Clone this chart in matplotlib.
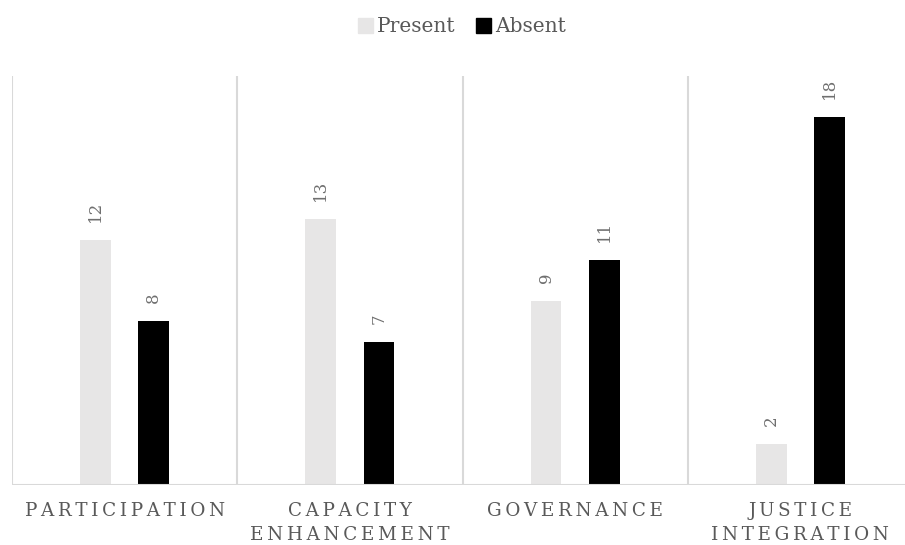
import matplotlib
matplotlib.use("Agg")
import matplotlib.pyplot as plt
import numpy as np
from matplotlib.patches import Patch

categories = ["PARTICIPATION", "CAPACITY\nENHANCEMENT", "GOVERNANCE", "JUSTICE\nINTEGRATION"]
series_names = ["Present", "Absent"]
present = [12, 13, 9, 2]
absent = [8, 7, 11, 18]

present_color = "#E7E6E6"
absent_color = "#000000"
grid_color = "#D9D9D9"
text_color = "#595959"
serif = ["DejaVu Serif"]


def spaced(s, sep="\u2009"):
    return "\n".join(sep.join(line) for line in s.split("\n"))


fig = plt.figure(figsize=(9.05, 5.45), dpi=100)
W, H = 905, 545
left, right, top, bottom = 12, 913, 76, 485
ax = fig.add_axes([left / W, 1 - bottom / H, (right - left) / W, (bottom - top) / H])

x = np.arange(len(categories))
offset = 0.129
width = 0.137
b1 = ax.bar(x - offset, present, width, color=present_color, zorder=2)
b2 = ax.bar(x + offset, absent, width, color=absent_color, zorder=2)

for bars, vals in ((b1, present), (b2, absent)):
    for rect, v in zip(bars, vals):
        ax.annotate(str(v), (rect.get_x() + rect.get_width() / 2, v),
                    xytext=(0, 13), textcoords="offset points",
                    rotation=90, ha="center", va="bottom",
                    fontsize=12, color="#6f6f6f", family=serif)

ax.set_xlim(-0.5, 3.5)
ax.set_ylim(0, 20)

# category separators
for b in np.arange(-0.5, len(categories), 1.0):
    ax.axvline(b, color=grid_color, lw=1.5, zorder=1)

for s in ax.spines.values():
    s.set_visible(False)
ax.axhline(0, color=grid_color, lw=1.5, zorder=3)
ax.set_yticks([])
ax.set_xticks(x)
ax.set_xticklabels([spaced(c) for c in categories], family=serif, fontsize=13.2,
                   color=text_color, linespacing=1.45)
ax.tick_params(axis="x", length=0, pad=12)

handles = [Patch(color=present_color, label=series_names[0]),
           Patch(color=absent_color, label=series_names[1])]
fig.legend(handles=handles, loc="center", bbox_to_anchor=(462 / W, 1 - 27 / H),
           ncol=2, frameon=False, handlelength=0.75, handleheight=0.75,
           handletextpad=0.2, columnspacing=1.0,
           prop={"family": serif, "size": 14.5}, labelcolor=text_color)

fig.savefig("out.png", dpi=100, facecolor="white")
